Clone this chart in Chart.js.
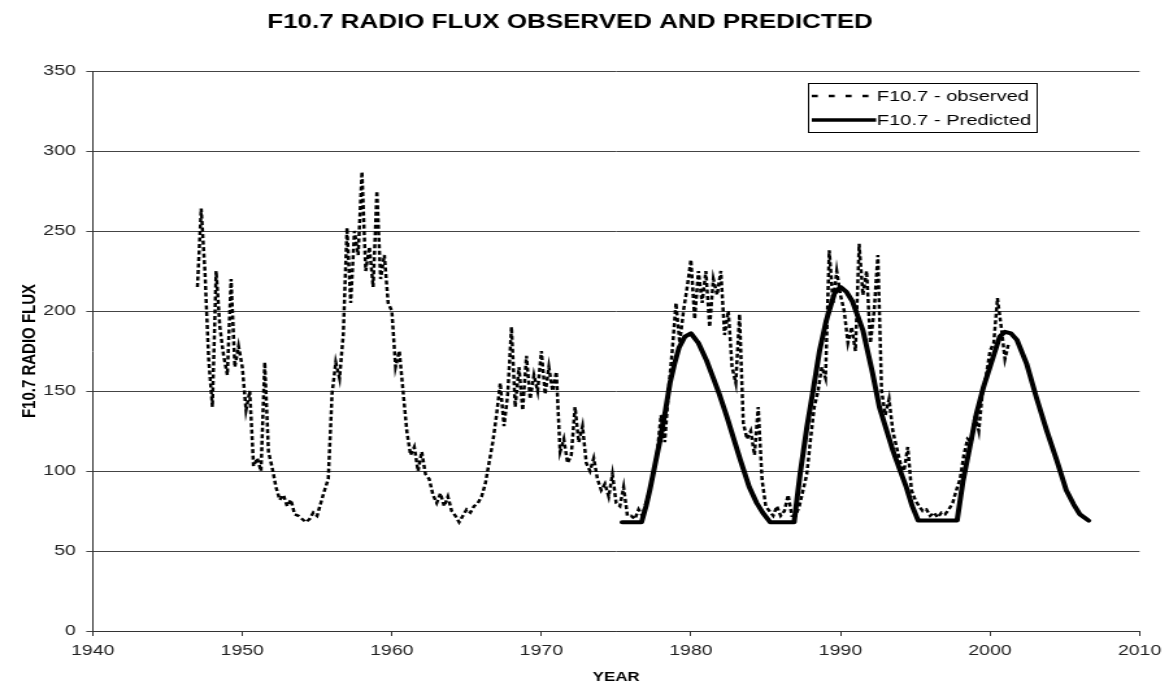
<!DOCTYPE html>
<html>
<head>
<meta charset="utf-8">
<script src="https://cdn.jsdelivr.net/npm/chart.js@4.4.0/dist/chart.umd.min.js"></script>
<style>
  html, body { margin: 0; padding: 0; background: #fff; overflow: hidden; }
  /* the original picture is stretched sideways, so draw narrow and widen it */
  #wrap { width: 900px; height: 687px; position: relative; transform: scaleX(1.29889); transform-origin: 0 0; }
</style>
</head>
<body>
<div id="wrap"><canvas id="fluxChart"></canvas></div>
<script>
// observed F10.7, quarterly samples starting 1947.0
var observedStart = 1947.0;
var observedStep = 0.25;
var observedValues = [
  215, 264, 225, 170,   // 1947
  140, 225, 190, 172,   // 1948
  160, 220, 165, 178,   // 1949
  165, 138, 150, 103,   // 1950
  108, 100, 168, 112,   // 1951
  102, 90, 82, 85,      // 1952
  78, 82, 73, 72,       // 1953
  70, 68, 70, 74,       // 1954
  72, 80, 88, 95,       // 1955
  148, 168, 158, 185,   // 1956
  252, 205, 250, 235,   // 1957
  287, 225, 240, 215,   // 1958
  275, 220, 235, 205,   // 1959
  200, 165, 175, 150,   // 1960
  125, 110, 115, 100,   // 1961
  112, 98, 95, 85,      // 1962
  80, 86, 78, 84,       // 1963
  75, 72, 68, 72,       // 1964
  76, 74, 78, 80,       // 1965
  84, 92, 105, 118,     // 1966
  135, 155, 128, 148,   // 1967
  190, 140, 165, 138,   // 1968
  172, 145, 160, 150,   // 1969
  175, 148, 165, 150,   // 1970
  162, 112, 120, 105,   // 1971
  110, 140, 118, 128,   // 1972
  105, 100, 108, 95,    // 1973
  88, 92, 84, 98,       // 1974
  80, 78, 90, 72,       // 1975
  72, 70, 76, 72,       // 1976
  80, 88, 98, 112,      // 1977
  135, 118, 150, 175,   // 1978
  205, 180, 200, 215,   // 1979
  232, 195, 225, 205,   // 1980
  225, 190, 220, 210,   // 1981
  225, 185, 200, 165,   // 1982
  155, 198, 130, 120,   // 1983
  125, 110, 140, 95,    // 1984
  78, 75, 72, 78,       // 1985
  72, 75, 85, 72,       // 1986
  72, 78, 88, 98,       // 1987
  120, 140, 150, 165,   // 1988
  158, 238, 205, 225,   // 1989
  210, 200, 180, 190,   // 1990
  175, 242, 210, 225,   // 1991
  180, 200, 235, 150,   // 1992
  135, 145, 125, 115,   // 1993
  105, 100, 115, 88,    // 1994
  82, 78, 75, 76,       // 1995
  72, 74, 71, 74,       // 1996
  73, 76, 80, 88,       // 1997
  95, 110, 120, 118,    // 1998
  135, 125, 150, 160,   // 1999
  175, 180, 208, 190,   // 2000
  170, 180              // 2001
];

// predicted curve, read at irregular years
var predictedYears = [
  1975.4, 1976.7, 1977.0, 1977.25, 1977.6, 1977.93, 1978.3, 1978.6, 1978.9, 1979.2,
  1979.6, 1980.0, 1980.5, 1981.05, 1981.5, 1981.9, 1982.4, 1982.8, 1983.3, 1983.9,
  1984.4, 1984.8, 1985.3, 1986.9, 1987.3, 1987.75, 1988.2, 1988.6, 1989.05, 1989.6,
  1990.0, 1990.4, 1990.8, 1991.5, 1992.15, 1992.6, 1993.5, 1994.0, 1994.4, 1994.8,
  1995.2, 1997.8, 1998.2, 1998.65, 1999.1, 1999.55, 2000.2, 2000.65, 2001.0, 2001.4,
  2001.8, 2002.45, 2003.1, 2003.8, 2004.45, 2005.1, 2005.6, 2006.0, 2006.6
];
var predictedValues = [
  68, 68, 78, 88, 104, 119, 138, 155, 167, 177,
  184, 186, 180, 169, 158, 148, 134, 122, 107, 90,
  80, 74, 68, 68, 98, 127, 152, 175, 194, 211,
  215, 212, 206, 188, 161, 140, 113, 100, 90, 78,
  69, 69, 94, 115, 136, 152, 171, 184, 187, 186,
  182, 167, 146, 125, 107, 88, 79, 73, 69
];

var yearTicks = [1940, 1950, 1960, 1970, 1980, 1990, 2000, 2010];
var fluxTicks = [0, 50, 100, 150, 200, 250, 300, 350];
var seriesNames = ['F10.7 - observed', 'F10.7 - Predicted'];

var observedPoints = observedValues.map(function (v, i) {
  return { x: observedStart + i * observedStep, y: v };
});
var predictedPoints = predictedValues.map(function (v, i) {
  return { x: predictedYears[i], y: v };
});

var tickFont = { family: 'Liberation Sans', size: 15 };

// box legend like the old spreadsheet one
var boxLegend = {
  id: 'boxLegend',
  afterDraw: function (chart) {
    var ctx = chart.ctx;
    var x0 = 622, y0 = 83, w = 176, h = 49;
    ctx.save();
    ctx.fillStyle = '#fff';
    ctx.fillRect(x0, y0, w, h);
    ctx.strokeStyle = '#000';
    ctx.lineWidth = 1;
    ctx.strokeRect(x0 + 0.5, y0 + 0.5, w, h);

    var rows = [y0 + 13, y0 + 37];
    chart.data.datasets.forEach(function (ds, i) {
      ctx.beginPath();
      ctx.lineWidth = i === 0 ? 2.5 : 3.5;
      ctx.setLineDash(i === 0 ? [4.6, 8.4] : []);
      ctx.moveTo(625, rows[i]);
      ctx.lineTo(674.5, rows[i]);
      ctx.strokeStyle = ds.borderColor;
      ctx.stroke();
      ctx.setLineDash([]);
      ctx.fillStyle = '#000';
      ctx.font = '15.5px "Liberation Sans"';
      ctx.textBaseline = 'middle';
      ctx.textAlign = 'left';
      ctx.fillText(ds.label, 675, rows[i] + 1);
    });
    ctx.restore();
  }
};

var ctx = document.getElementById('fluxChart');
new Chart(ctx, {
  type: 'line',
  data: {
    datasets: [{
      label: seriesNames[0],
      data: observedPoints,
      borderColor: '#000',
      borderWidth: 2.5,
      borderDash: [4, 2.5],
      pointRadius: 0,
      tension: 0,
      fill: false
    }, {
      label: seriesNames[1],
      data: predictedPoints,
      borderColor: '#000',
      borderWidth: 4,
      borderJoinStyle: 'round',
      borderCapStyle: 'round',
      pointRadius: 0,
      tension: 0,
      fill: false
    }]
  },
  options: {
    responsive: true,
    maintainAspectRatio: false,
    animation: false,
    layout: { padding: { left: 0, right: 22.3, top: 0, bottom: 0 } },
    plugins: {
      legend: { display: false },
      tooltip: { enabled: false },
      title: {
        display: true,
        text: 'F10.7 RADIO FLUX OBSERVED AND PREDICTED',
        color: '#000',
        font: { family: 'Liberation Sans', size: 20, weight: 'bold', lineHeight: 1.2 },
        padding: { top: 10, bottom: 37 }
      }
    },
    scales: {
      x: {
        type: 'linear',
        min: 1940,
        max: 2010,
        afterFit: function (scale) { scale.height = 56; },
        afterBuildTicks: function (scale) {
          scale.ticks = yearTicks.map(function (v) { return { value: v }; });
        },
        ticks: {
          color: '#222',
          font: tickFont,
          padding: 6,
          maxRotation: 0,
          callback: function (v) { return String(v); }
        },
        grid: { drawOnChartArea: false, drawTicks: true, tickLength: 5, color: '#333' },
        border: { display: true, color: '#333', width: 1 },
        title: {
          display: true,
          text: 'YEAR',
          color: '#000',
          font: { family: 'Liberation Sans', size: 13, weight: 'bold', lineHeight: 1.2 },
          padding: { top: 0, bottom: 2 }
        }
      },
      y: {
        min: 0,
        max: 350,
        afterFit: function (scale) { scale.width = 71.4; },
        afterBuildTicks: function (scale) {
          scale.ticks = fluxTicks.map(function (v) { return { value: v }; });
        },
        ticks: { color: '#222', font: tickFont, padding: 8 },
        grid: { drawTicks: true, tickLength: 5, color: '#444', lineWidth: 1 },
        border: { display: true, color: '#333', width: 1 },
        title: {
          display: true,
          text: 'F10.7 RADIO FLUX',
          color: '#000',
          font: { family: 'Liberation Sans', size: 15, weight: 'bold', lineHeight: 1.2 },
          padding: { top: 14, bottom: 0 }
        }
      }
    }
  },
  plugins: [boxLegend]
});
</script>
</body>
</html>
